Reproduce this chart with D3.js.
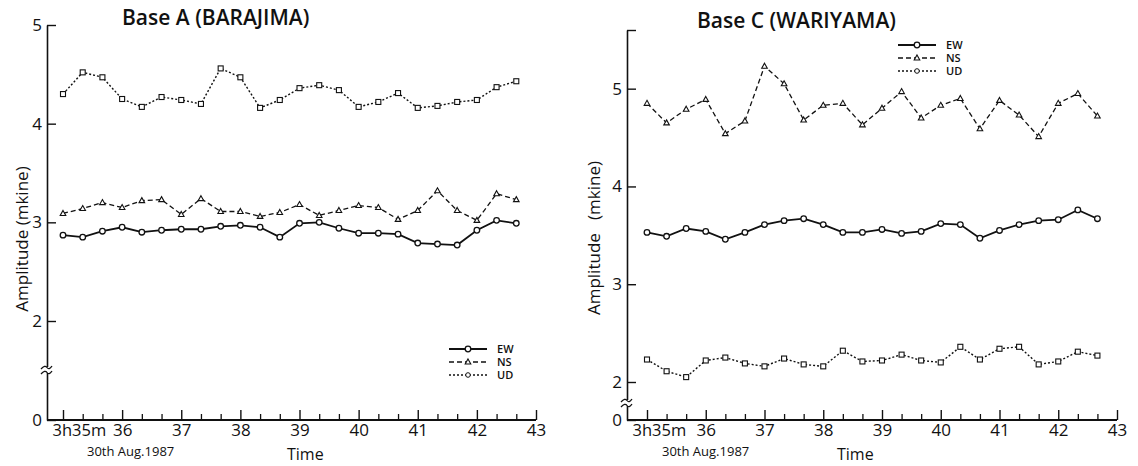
<!DOCTYPE html>
<html>
<head>
<meta charset="utf-8">
<script src="https://cdn.jsdelivr.net/npm/d3@7"></script>
<style>
    body { margin: 0; background: #fff; }
    svg { display: block; }
    text { font-family: "Open Sans", "DejaVu Sans", sans-serif; fill: #111; }
</style>
</head>
<body>
<div id="chart_box"></div>
<script>
// sampling times, seconds after 3h35m
var sample_sec = [0, 20, 40, 60, 80, 100, 120, 140, 160, 180, 200, 220,
                  240, 260, 280, 300, 320, 340, 360, 380, 400, 420, 440, 460];

var x_tick_min = [35, 36, 37, 38, 39, 40, 41, 42, 43];
var x_tick_labels = ["3h35m", "36", "37", "38", "39", "40", "41", "42", "43"];
var y_tick_vals = [0, 2, 3, 4, 5];
var series_names = ["EW", "NS", "UD"];

// Base A (BARAJIMA)
var a_ew = [2.87, 2.85, 2.91, 2.95, 2.90, 2.92, 2.93, 2.93, 2.96, 2.97, 2.95, 2.85,
            2.99, 3.00, 2.94, 2.89, 2.89, 2.88, 2.79, 2.78, 2.77, 2.92, 3.02, 2.99];
var a_ns = [3.09, 3.14, 3.20, 3.15, 3.22, 3.23, 3.08, 3.24, 3.11, 3.11, 3.06, 3.10,
            3.18, 3.07, 3.12, 3.17, 3.15, 3.03, 3.12, 3.32, 3.12, 3.02, 3.29, 3.23];
var a_ud = [4.30, 4.52, 4.47, 4.25, 4.17, 4.27, 4.24, 4.20, 4.56, 4.47, 4.16, 4.24,
            4.36, 4.39, 4.34, 4.17, 4.22, 4.31, 4.16, 4.18, 4.22, 4.24, 4.37, 4.43];

// Base C (WARIYAMA)
var c_ew = [3.53, 3.49, 3.57, 3.54, 3.46, 3.53, 3.61, 3.65, 3.67, 3.61, 3.53, 3.53,
            3.56, 3.52, 3.54, 3.62, 3.61, 3.47, 3.55, 3.61, 3.65, 3.66, 3.76, 3.67];
var c_ns = [4.85, 4.65, 4.79, 4.89, 4.54, 4.67, 5.23, 5.05, 4.68, 4.83, 4.85, 4.63,
            4.80, 4.97, 4.70, 4.83, 4.90, 4.59, 4.88, 4.73, 4.51, 4.85, 4.95, 4.72];
var c_ud = [2.23, 2.11, 2.05, 2.22, 2.25, 2.19, 2.16, 2.24, 2.18, 2.16, 2.32, 2.21,
            2.22, 2.28, 2.22, 2.20, 2.36, 2.23, 2.34, 2.36, 2.18, 2.21, 2.31, 2.27];

var svg = d3.select("#chart_box").append("svg").attr("width", 1138).attr("height", 466);

var panels = [
    {
        title: "Base A (BARAJIMA)", title_x: 122, title_y: 25,
        ax: 47, x0: 63, x1: 536, ybot: 420,
        ydom: [0, 2, 5], yrng: [420, 321, 25], ytop: 5, break_y: 370,
        ylabel: "Amplitude (mkine)", ylabel_x: 22, ylabel_y: 239,
        date_x: 87, time_x: 287,
        legend_x: 449, legend_y: 349,
        series: [a_ew, a_ns, a_ud]
    },
    {
        title: "Base C (WARIYAMA)", title_x: 697, title_y: 28,
        ax: 627, x0: 647, x1: 1117, ybot: 420,
        ydom: [0, 2, 5.6], yrng: [420, 382, 30], ytop: 5.6, break_y: 403,
        ylabel: "Amplitude \u00a0 (mkine)", ylabel_x: 594, ylabel_y: 238,
        date_x: 662, time_x: 837,
        legend_x: 898, legend_y: 45,
        series: [c_ew, c_ns, c_ud]
    }
];

var line_dash = [null, "5,3", "2,2"];
var line_width = [1.8, 1.3, 1.4];

function draw_marker(g, k, cx, cy) {
    if (k === 0) {
        g.append("circle").attr("cx", cx).attr("cy", cy).attr("r", 2.8)
                .attr("fill", "#fff").attr("stroke", "#111").attr("stroke-width", 1.3);
    } else if (k === 1) {
        g.append("path")
                .attr("d", "M" + cx + "," + (cy - 3) + "L" + (cx + 2.8) + "," + (cy + 2) + "L" + (cx - 2.8) + "," + (cy + 2) + "Z")
                .attr("fill", "#fff").attr("stroke", "#111").attr("stroke-width", 1.1);
    } else {
        g.append("rect").attr("x", cx - 2.5).attr("y", cy - 2.5).attr("width", 5).attr("height", 5)
                .attr("fill", "#fff").attr("stroke", "#111").attr("stroke-width", 1.1);
    }
}

function draw_panel(p) {
    var g = svg.append("g");

    var x = d3.scaleLinear().domain([35, 43]).range([p.x0, p.x1]);
    var y = d3.scaleLinear().domain(p.ydom).range(p.yrng);

    // y axis
    var yAxis = d3.axisLeft(y)
            .tickValues(y_tick_vals.concat(p.ytop > 5 ? [p.ytop] : []))
            .tickSizeInner(-9).tickSizeOuter(0).tickPadding(5)
            .tickFormat(function (d) { return d > 5 ? "" : d; });
    var ga = g.append("g").attr("transform", "translate(" + p.ax + ",0)").call(yAxis);
    ga.select(".domain").attr("stroke", "#111").attr("stroke-width", 1.6);
    ga.selectAll(".tick line").attr("stroke", "#111").attr("stroke-width", 1.4);
    ga.selectAll(".tick text").attr("font-size", 17).attr("fill", "#111")
            .style("font-family", "'Open Sans', sans-serif");

    // axis break
    g.append("rect").attr("x", p.ax - 3).attr("y", p.break_y - 3).attr("width", 6).attr("height", 6).attr("fill", "#fff");
    [-2.5, 2.5].forEach(function (o) {
        var yy = p.break_y + o;
        g.append("path")
                .attr("d", "M" + (p.ax - 6) + "," + (yy + 1.5) + "Q" + (p.ax - 2) + "," + (yy - 3) + " " + p.ax + "," + yy
                        + "T" + (p.ax + 5) + "," + (yy - 1.5))
                .attr("fill", "none").attr("stroke", "#111").attr("stroke-width", 1.3);
    });

    // x axis
    g.append("line").attr("x1", p.ax).attr("x2", x(43)).attr("y1", p.ybot).attr("y2", p.ybot)
            .attr("stroke", "#111").attr("stroke-width", 2);
    var minor = sample_sec.map(function (s) { return 35 + s / 60; })
            .filter(function (m) { return Math.abs(m - Math.round(m)) > 0.01; });
    g.append("g").attr("transform", "translate(0," + p.ybot + ")")
            .call(d3.axisBottom(x).tickValues(minor).tickSizeInner(-6).tickSizeOuter(0).tickFormat(""))
            .call(function (s) {
                s.select(".domain").remove();
                s.selectAll(".tick line").attr("stroke", "#111").attr("stroke-width", 1.3);
            });
    g.append("g").attr("transform", "translate(0," + p.ybot + ")")
            .call(d3.axisBottom(x).tickValues(x_tick_min).tickSizeInner(-10).tickSizeOuter(0)
                    .tickFormat(function (d, i) { return x_tick_labels[i]; }))
            .call(function (s) {
                s.select(".domain").remove();
                s.selectAll(".tick line").attr("stroke", "#111").attr("stroke-width", 1.4);
                s.selectAll(".tick text").attr("font-size", 17).attr("fill", "#111").attr("y", 4)
                        .style("font-family", "'Open Sans', sans-serif");
                s.selectAll(".tick text").filter(function (d) { return d === 35; })
                        .attr("text-anchor", "start").attr("x", p.ax - p.x0 + 5)
                        .attr("font-size", 16.5);
            });

    // labels
    g.append("text").attr("x", p.title_x).attr("y", p.title_y).attr("font-size", 21).attr("font-weight", 600)
            .text(p.title);
    g.append("text").attr("transform", "translate(" + p.ylabel_x + "," + p.ylabel_y + ") rotate(-90)")
            .attr("text-anchor", "middle").attr("dy", "0.35em").attr("font-size", 17).text(p.ylabel);
    g.append("text").attr("x", p.date_x).attr("y", 456).attr("font-size", 13).text("30th Aug.1987");
    g.append("text").attr("x", p.time_x).attr("y", 460).attr("font-size", 16).text("Time");

    // series
    var ln = d3.line()
            .x(function (d, i) { return x(35 + sample_sec[i] / 60); })
            .y(function (d) { return y(d); });
    p.series.forEach(function (vals, k) {
        g.append("path").datum(vals).attr("d", ln)
                .attr("fill", "none").attr("stroke", "#111")
                .attr("stroke-width", line_width[k])
                .attr("stroke-dasharray", line_dash[k]);
        vals.forEach(function (v, i) {
            draw_marker(g, k, x(35 + sample_sec[i] / 60), y(v));
        });
    });

    // legend
    series_names.forEach(function (nm, k) {
        var ly = p.legend_y + k * 13;
        g.append("line").attr("x1", p.legend_x).attr("x2", p.legend_x + 38).attr("y1", ly).attr("y2", ly)
                .attr("stroke", "#111").attr("stroke-width", line_width[k])
                .attr("stroke-dasharray", line_dash[k]);
        if (k === 2) {
            g.append("circle").attr("cx", p.legend_x + 19).attr("cy", ly).attr("r", 2.3)
                    .attr("fill", "#fff").attr("stroke", "#111").attr("stroke-width", 1);
        } else {
            draw_marker(g, k, p.legend_x + 19, ly);
        }
        g.append("text").attr("x", p.legend_x + 48).attr("y", ly).attr("dy", "0.36em")
                .attr("font-size", 11).attr("font-weight", 600).text(nm);
    });
}

panels.forEach(function (p) {
    draw_panel(p);
});
</script>
</body>
</html>
